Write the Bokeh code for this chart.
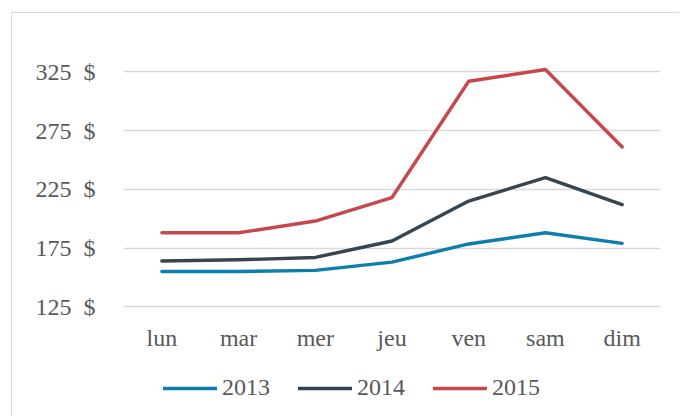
from bokeh.plotting import figure
from bokeh.models import FixedTicker, Range1d, Legend, LegendItem, CustomJSTickFormatter
from bokeh.embed import file_html
from bokeh.resources import INLINE

days = ["lun", "mar", "mer", "jeu", "ven", "sam", "dim"]
v2013 = [155, 155, 156, 163, 178.5, 188, 179]
v2014 = [164, 165, 167, 181, 215, 235, 212]
v2015 = [188, 188, 198, 218, 317, 327, 261]
series_names = ["2013", "2014", "2015"]
y_ticks = [125, 175, 225, 275, 325]

colors = ["#0E7EAE", "#36454F", "#C8474D"]
FONT = "Liberation Serif"
TXT = "#595959"

p = figure(x_range=days, y_range=Range1d(35, 350), width=668, height=404,
           output_backend="svg", toolbar_location=None,
           min_border_left=111, min_border_right=20, min_border_top=29, min_border_bottom=5,
           styles={"margin-left": "11px", "margin-top": "12px",
                   "border-left": "1px solid #D9D9D9", "border-top": "1px solid #D9D9D9"})
p.outline_line_color = None
p.x_range.range_padding = 0

items = []
for name, vals, c in zip(series_names, [v2013, v2014, v2015], colors):
    r = p.line(days, vals, line_color=c, line_width=3.4, line_join="round", line_cap="round")
    items.append(LegendItem(label=name, renderers=[r]))

p.yaxis.ticker = FixedTicker(ticks=y_ticks)
p.yaxis.formatter = CustomJSTickFormatter(code="return tick + '\\u00a0\\u00a0$';")
p.xaxis.fixed_location = y_ticks[0]
for ax in [p.xaxis[0], p.yaxis[0]]:
    ax.axis_line_color = None
    ax.major_tick_line_color = None
    ax.minor_tick_line_color = None
    ax.major_tick_out = 0
    ax.major_tick_in = 0
    ax.major_label_text_font = FONT
    ax.major_label_text_font_size = "24px"
    ax.major_label_text_color = TXT
p.yaxis.major_label_standoff = 28
p.xaxis.major_label_standoff = 18
p.xgrid.grid_line_color = None
p.ygrid.grid_line_color = "#D9D9D9"
p.ygrid.grid_line_width = 1.5

legend = Legend(items=items, orientation="horizontal", location=(40, 11),
                glyph_width=54, glyph_height=20, label_standoff=5, spacing=28,
                padding=0, margin=0, border_line_color=None, background_fill_alpha=0,
                label_text_font=FONT, label_text_font_size="24px", label_text_color=TXT)
p.add_layout(legend, "center")

open("out.html", "w").write(file_html(p, INLINE))
